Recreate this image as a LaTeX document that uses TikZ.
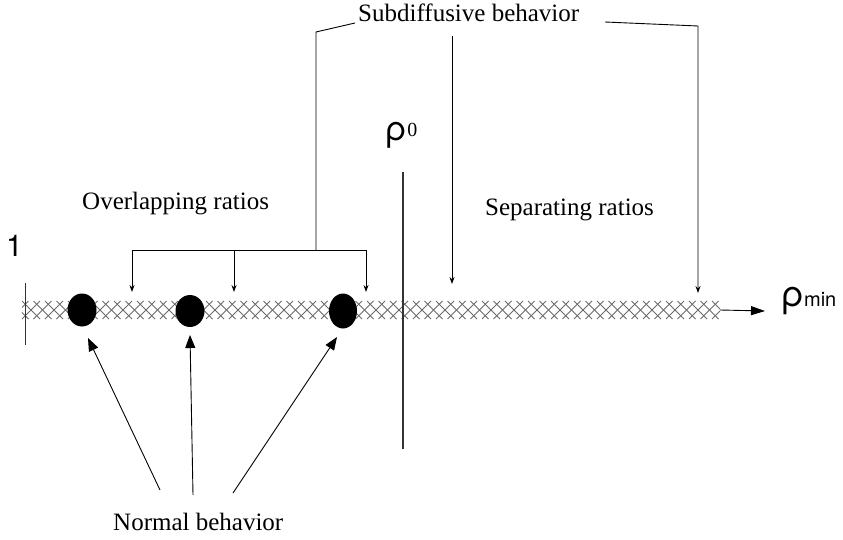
\documentclass[tikz,border=0pt]{standalone}
\usepackage{fontspec}
\setmainfont{Liberation Serif}
\newfontfamily\symfont{TeX Gyre Heros}
\usetikzlibrary{arrows.meta,shapes.geometric}
\begin{document}
\begin{tikzpicture}[x=1pt,y=-1pt,
  lbl/.style={font=\fontsize{25}{25}\selectfont, inner sep=0pt, anchor=base west},
  thinline/.style={line width=0.9pt, black},
  smallarrow/.style={thinline, -{Stealth[length=7pt,width=5pt]}},
  bigarrow/.style={line width=0.9pt, black, -{Triangle[length=13pt,width=10pt]}},
  endarrow/.style={line width=0.9pt, black, -{Triangle[length=14pt,width=9pt]}},
  dot/.style={ellipse, fill=black, draw=none, inner sep=0pt},
  hatch/.style={line width=0.8pt, black!58},
  barbox/.style={rectangle, draw=none, inner sep=0pt, minimum width=698pt, minimum height=18pt}]
\useasboundingbox (0,0) rectangle (843,540);

% bar
\node[barbox] (bar) at (371,310) {};
\begin{scope}
  \clip (bar.north west) rectangle (bar.south east);
  \foreach \i in {-3,...,64} {
    \draw[hatch] (22+\i*11.5,319) -- ++(18,-18);
    \draw[hatch] (22+\i*11.5,301) -- ++(18,18);
  }
\end{scope}

% left tick and "1"
\coordinate (ltop) at (25,283);
\coordinate (lbot) at (25,345);
\draw[line width=0.9pt, black!80] (ltop) -- (lbot);
\node[anchor=base west, inner sep=0pt, font=\symfont\fontsize{30}{30}\selectfont] (one) at (6,256) {1};

% dots
\node[dot, minimum width=29pt, minimum height=33pt] (d1) at (82,310) {};
\node[dot, minimum width=29pt, minimum height=32pt] (d2) at (190,311) {};
\node[dot, minimum width=28pt, minimum height=35pt] (d3) at (343,311) {};

% rho_0 line and label
\coordinate (rtop) at (403,172);
\coordinate (rbot) at (403,449);
\draw[line width=1.4pt, black!80] (rtop) -- (rbot);
\node[anchor=base west, inner sep=0pt] (rho0) at (385,141)
  {\symfont\fontsize{34}{34}\selectfont ρ\hspace{0.5pt}\raisebox{4pt}{\rmfamily\fontsize{20}{20}\selectfont 0}};

% end arrow and rho_min
\coordinate (pend) at (765,311);
\draw[endarrow] (bar.east) -- (pend);
\node[anchor=base west, inner sep=0pt] (rhomin) at (781,306)
  {\symfont\fontsize{36}{36}\selectfont ρ\fontsize{20}{20}\selectfont min};

% labels
\node[lbl] (sub) at (358,22) {Subdiffusive behavior};
\node[lbl] (over) at (82,210) {Overlapping ratios};
\node[lbl] (sep) at (485,215) {Separating ratios};
\node[lbl] (norm) at (113,530) {Normal behavior};

% subdiffusive bracket
\coordinate (bl) at (132,250);
\coordinate (bm) at (234,250);
\coordinate (br) at (366,250);
\coordinate (bj) at (316,250);
\coordinate (sl) at (355,23);
\coordinate (sr) at (605,22);
\coordinate (sm) at (452,36);
\draw[thinline] (bl) -- (br);
\draw[thinline] (bj) -- (316,32) -- (sl);
\draw[smallarrow] (bl) -- (132,292);
\draw[smallarrow] (bm) -- (234,292);
\draw[smallarrow] (br) -- (366,292);
\draw[smallarrow] (sm) -- (452,284);
\draw[smallarrow] (sr) -- (698,26) -- (698,293);

% normal behavior arrows
\coordinate (n1) at (160,490);
\coordinate (n2) at (193,495);
\coordinate (n3) at (233,493);
\coordinate (a1) at (88,338);
\coordinate (a2) at (190,335);
\coordinate (a3) at (337,337);
\draw[bigarrow] (n1) -- (a1);
\draw[bigarrow] (n2) -- (a2);
\draw[bigarrow] (n3) -- (a3);
\end{tikzpicture}
\end{document}
